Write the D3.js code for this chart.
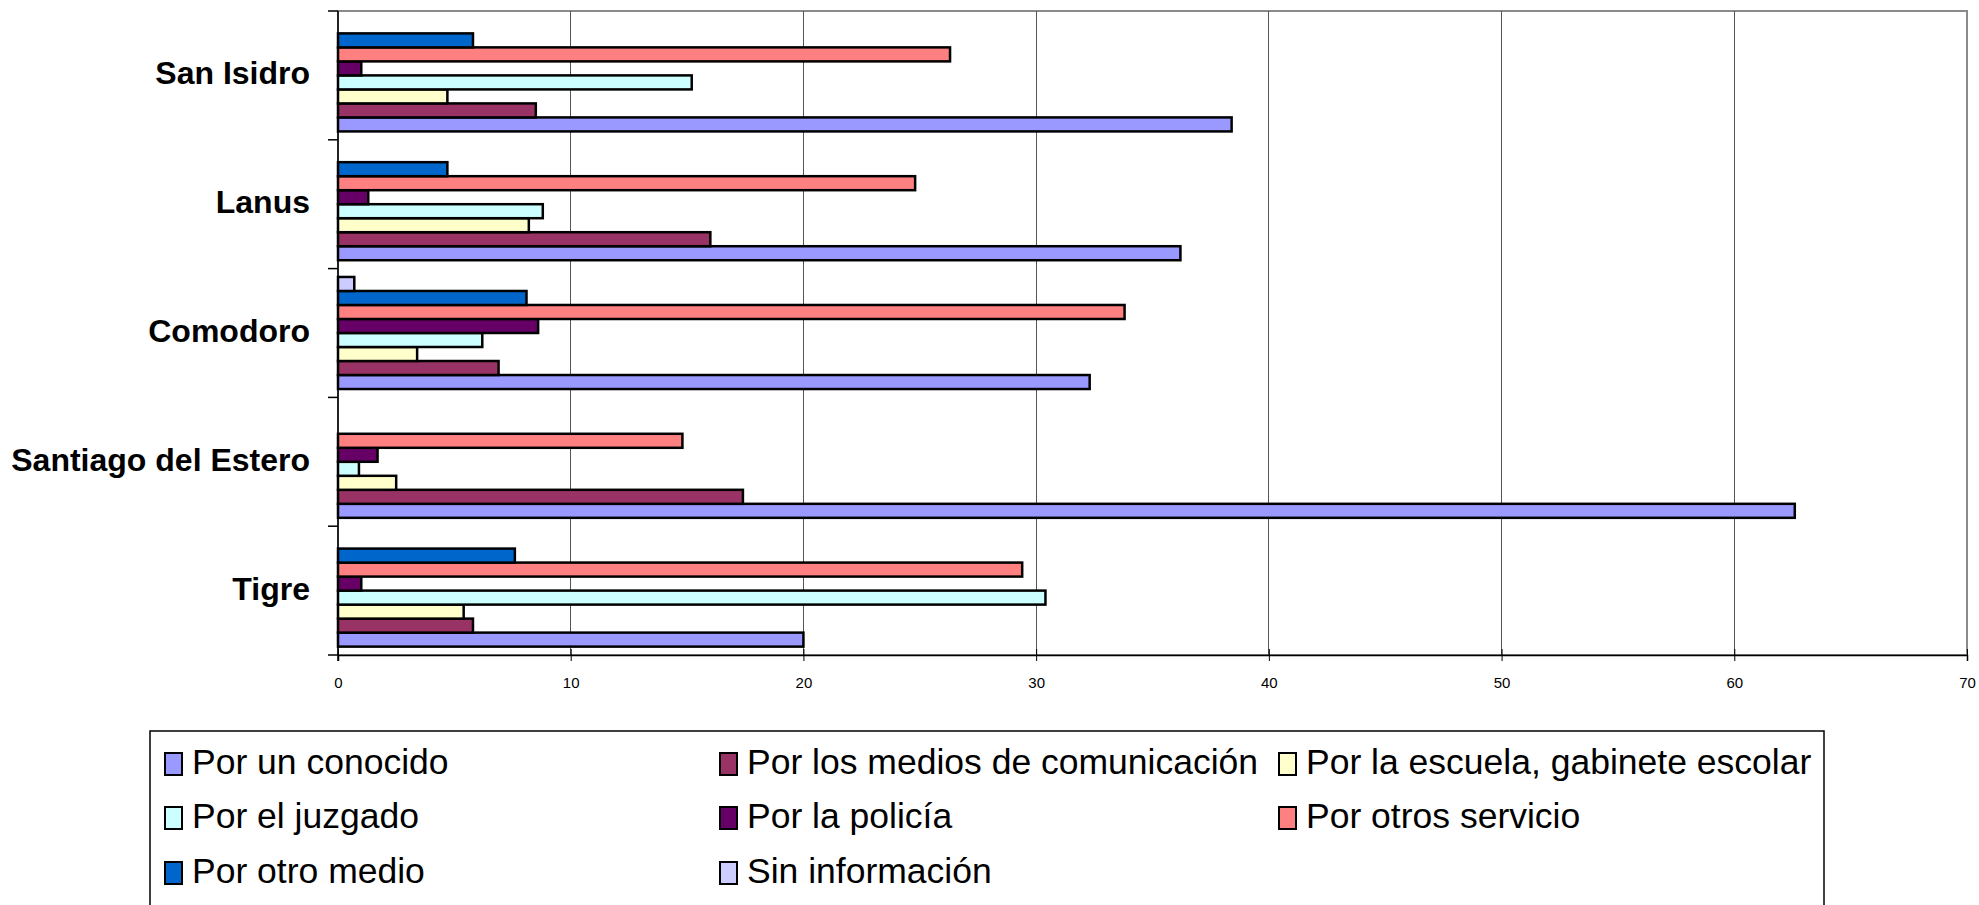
<!DOCTYPE html>
<html><head><meta charset="utf-8">
<script src="https://cdn.jsdelivr.net/npm/d3@7"></script>
<style>
html,body{margin:0;padding:0;background:#fff;}
svg{display:block;font-family:Arial,"Liberation Sans",sans-serif;}
</style></head>
<body>
<svg id="chart" width="1979" height="905"></svg>
<script>
const categories = ["San Isidro", "Lanus", "Comodoro", "Santiago del Estero", "Tigre"];
const seriesNames = ["Por un conocido", "Por los medios de comunicación", "Por la escuela, gabinete escolar",
  "Por el juzgado", "Por la policía", "Por otros servicio", "Por otro medio", "Sin información"];
const seriesColors = ["#9999FF", "#993366", "#FFFFCC", "#CCFFFF", "#660066", "#FF8080", "#0066CC", "#CCCCFF"];
// values per series, in category order (San Isidro, Lanus, Comodoro, Santiago del Estero, Tigre)
const porUnConocido   = [38.4, 36.2, 32.3, 62.6, 20.0];
const porMedios       = [8.5, 16.0, 6.9, 17.4, 5.8];
const porEscuela      = [4.7, 8.2, 3.4, 2.5, 5.4];
const porJuzgado      = [15.2, 8.8, 6.2, 0.9, 30.4];
const porPolicia      = [1.0, 1.3, 8.6, 1.7, 1.0];
const porOtrosServ    = [26.3, 24.8, 33.8, 14.8, 29.4];
const porOtroMedio    = [5.8, 4.7, 8.1, 0, 7.6];
const sinInformacion  = [0, 0, 0.7, 0, 0];
const xTicks = [0, 10, 20, 30, 40, 50, 60, 70];

const seriesValues = [porUnConocido, porMedios, porEscuela, porJuzgado, porPolicia, porOtrosServ, porOtroMedio, sinInformacion];

const svg = d3.select("#chart");
const L = 338, R = 1967, T = 11, B = 655;

const x = d3.scaleLinear().domain([0, 70]).range([L, R]);
const y = d3.scaleBand().domain(categories).range([T, B]).paddingInner(0.13).paddingOuter(0.065);
const ySub = d3.scaleBand().domain(d3.range(seriesNames.length).reverse()).range([0, y.bandwidth()]);

// plot border
svg.append("rect").attr("x", L).attr("y", T).attr("width", R - L).attr("height", B - T)
  .attr("fill", "none").attr("stroke", "#8a8a8a").attr("stroke-width", 2);

// gridlines
svg.append("g").selectAll("line").data(xTicks.slice(1, -1)).join("line")
  .attr("x1", d => x(d)).attr("x2", d => x(d)).attr("y1", T).attr("y2", B)
  .attr("stroke", "#555").attr("stroke-width", 1).attr("shape-rendering", "crispEdges");

// bars
const groups = svg.append("g").selectAll("g").data(categories).join("g")
  .attr("transform", c => `translate(0,${y(c)})`);
groups.each(function(c, ci) {
  const items = seriesValues.map((vals, si) => ({si, v: vals[ci]})).filter(d => d.v > 0);
  d3.select(this).selectAll("rect").data(items).join("rect")
    .attr("x", x(0)).attr("y", d => ySub(d.si))
    .attr("width", d => x(d.v) - x(0)).attr("height", ySub.bandwidth())
    .attr("fill", d => seriesColors[d.si]).attr("stroke", "#000").attr("stroke-width", 2.5);
});

// x axis
const xAxis = d3.axisBottom(x).tickValues(xTicks).tickSize(6).tickPadding(16).tickFormat(d3.format("d"));
const gx = svg.append("g").attr("transform", `translate(0,${B})`).call(xAxis);
gx.select(".domain").attr("stroke", "#000").attr("stroke-width", 1.5);
gx.selectAll(".tick line").attr("stroke", "#000").attr("transform", "translate(0,-6)").attr("y2", 12);
gx.selectAll(".tick text").attr("font-size", 15).attr("font-family", "Arial, 'Liberation Sans', sans-serif").attr("fill", "#000");

// y axis
const yBoundaries = categories.map(c => y(c) - y.step() * 0.065).concat([B]);
svg.append("line").attr("x1", L).attr("x2", L).attr("y1", T).attr("y2", B + 6).attr("stroke", "#000").attr("stroke-width", 1.5);
svg.append("g").selectAll("line").data(yBoundaries).join("line")
  .attr("x1", L - 10).attr("x2", L).attr("y1", d => d).attr("y2", d => d).attr("stroke", "#000").attr("stroke-width", 1.5);
svg.append("g").selectAll("text").data(categories).join("text")
  .attr("x", 310).attr("y", c => y(c) + y.bandwidth() / 2 - 2)
  .attr("text-anchor", "end").attr("dominant-baseline", "central")
  .attr("font-size", 32).attr("font-weight", "bold").attr("fill", "#000").text(c => c);

// legend
const legendCols = [165, 720, 1279];
const legendRows = [774, 828, 883];
svg.append("rect").attr("x", 150).attr("y", 731).attr("width", 1824 - 150).attr("height", 200)
  .attr("fill", "none").attr("stroke", "#000").attr("stroke-width", 1.5);
const lg = svg.append("g").selectAll("g").data(seriesNames).join("g")
  .attr("transform", (d, i) => `translate(${legendCols[i % 3]},${legendRows[Math.floor(i / 3)]})`);
lg.append("rect").attr("x", 0).attr("y", -21).attr("width", 17).attr("height", 22)
  .attr("fill", (d, i) => seriesColors[i]).attr("stroke", "#000").attr("stroke-width", 2);
lg.append("text").attr("x", 27).attr("y", 0).attr("font-size", 35.5).attr("fill", "#000").text(d => d);
</script>
</body></html>
